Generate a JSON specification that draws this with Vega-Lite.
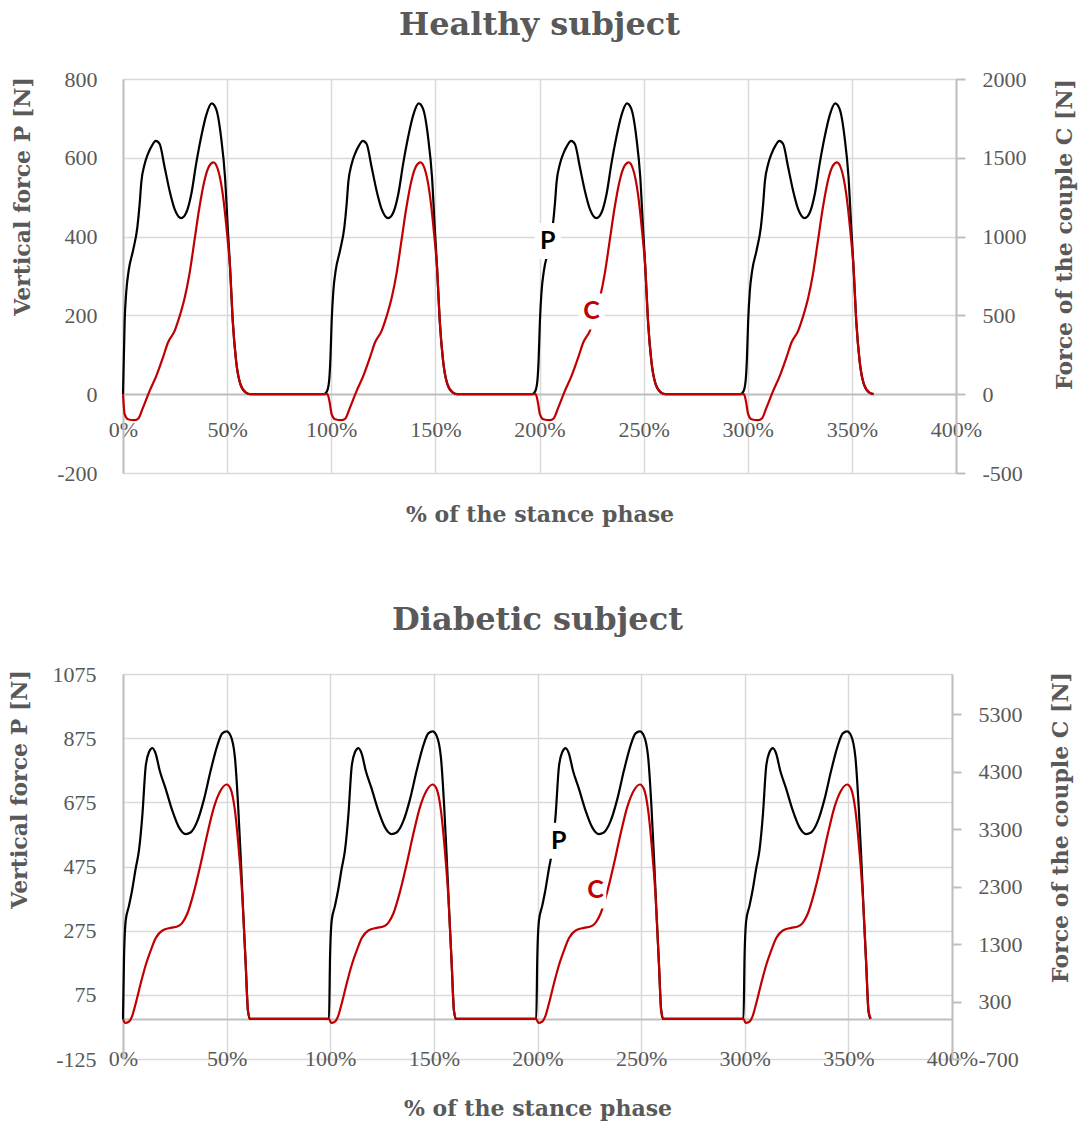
{
"$schema": "https://vega.github.io/schema/vega-lite/v6.json",
"background": "white",
"padding": {"left": 7, "top": 9, "right": 5, "bottom": 5},
"spacing": 79,
"config": {
 "view": {"stroke": null},
 "axis": {"labelFont": "Liberation Serif", "labelFontSize": 22, "labelColor": "#595959", "titleFont": "DejaVu Serif", "titleFontSize": 22, "titleFontWeight": "bold", "titleColor": "#595959", "gridColor": "#d9d9d9", "gridWidth": 1.5, "domainColor": "#bfbfbf", "domainWidth": 2, "tickColor": "#bfbfbf", "tickWidth": 2, "labelFlush": false, "labelOverlap": false},
 "title": {"font": "DejaVu Serif", "fontSize": 32, "fontWeight": "bold", "color": "#595959", "anchor": "middle", "frame": "group", "baseline": "alphabetic", "offset": 26}
},
"datasets": {
 "hP": [{"x":0,"y":0},{"x":0.8,"y":186},{"x":1.6,"y":262},{"x":2.7,"y":313},{"x":4.8,"y":364},{"x":6.9,"y":424},{"x":8,"y":483},{"x":8.8,"y":538},{"x":10.4,"y":584},{"x":12,"y":610},{"x":13.9,"y":631},{"x":15.8,"y":643},{"x":17.6,"y":635},{"x":20,"y":576},{"x":22.4,"y":516},{"x":24.8,"y":470},{"x":28,"y":447},{"x":30.4,"y":461},{"x":32.8,"y":508},{"x":35.1,"y":584},{"x":37.5,"y":652},{"x":39.9,"y":707},{"x":42.6,"y":738},{"x":44.7,"y":724},{"x":47.1,"y":652},{"x":49,"y":550},{"x":50.3,"y":423},{"x":51.4,"y":322},{"x":52.7,"y":186},{"x":54.3,"y":85},{"x":56.4,"y":25},{"x":59,"y":4},{"x":61,"y":0},
  {"x":96.4,"y":0},{"x":98,"y":8},{"x":99,"y":35},{"x":99.6,"y":90},
  {"x":100.2,"y":186},{"x":101,"y":262},{"x":102.1,"y":313},{"x":104.2,"y":364},{"x":106.3,"y":424},{"x":107.4,"y":483},{"x":108.2,"y":538},{"x":109.8,"y":584},{"x":111.4,"y":610},{"x":113.3,"y":631},{"x":115.2,"y":643},{"x":117,"y":635},{"x":119.4,"y":576},{"x":121.8,"y":516},{"x":124.2,"y":470},{"x":127.4,"y":447},{"x":129.8,"y":461},{"x":132.2,"y":508},{"x":134.5,"y":584},{"x":136.9,"y":652},{"x":139.3,"y":707},{"x":142,"y":738},{"x":144.1,"y":724},{"x":146.5,"y":652},{"x":148.4,"y":550},{"x":149.7,"y":423},{"x":150.8,"y":322},{"x":152.1,"y":186},{"x":153.7,"y":85},{"x":155.8,"y":25},{"x":158.4,"y":4},{"x":160.4,"y":0},
  {"x":196.4,"y":0},{"x":198,"y":8},{"x":199,"y":35},{"x":199.6,"y":90},
  {"x":200.2,"y":186},{"x":201,"y":262},{"x":202.1,"y":313},{"x":204.2,"y":364},{"x":206.3,"y":424},{"x":207.4,"y":483},{"x":208.2,"y":538},{"x":209.8,"y":584},{"x":211.4,"y":610},{"x":213.3,"y":631},{"x":215.2,"y":643},{"x":217,"y":635},{"x":219.4,"y":576},{"x":221.8,"y":516},{"x":224.2,"y":470},{"x":227.4,"y":447},{"x":229.8,"y":461},{"x":232.2,"y":508},{"x":234.5,"y":584},{"x":236.9,"y":652},{"x":239.3,"y":707},{"x":242,"y":738},{"x":244.1,"y":724},{"x":246.5,"y":652},{"x":248.4,"y":550},{"x":249.7,"y":423},{"x":250.8,"y":322},{"x":252.1,"y":186},{"x":253.7,"y":85},{"x":255.8,"y":25},{"x":258.4,"y":4},{"x":260.4,"y":0},
  {"x":296.4,"y":0},{"x":298,"y":8},{"x":299,"y":35},{"x":299.6,"y":90},
  {"x":300.2,"y":186},{"x":301,"y":262},{"x":302.1,"y":313},{"x":304.2,"y":364},{"x":306.3,"y":424},{"x":307.4,"y":483},{"x":308.2,"y":538},{"x":309.8,"y":584},{"x":311.4,"y":610},{"x":313.3,"y":631},{"x":315.2,"y":643},{"x":317,"y":635},{"x":319.4,"y":576},{"x":321.8,"y":516},{"x":324.2,"y":470},{"x":327.4,"y":447},{"x":329.8,"y":461},{"x":332.2,"y":508},{"x":334.5,"y":584},{"x":336.9,"y":652},{"x":339.3,"y":707},{"x":342,"y":738},{"x":344.1,"y":724},{"x":346.5,"y":652},{"x":348.4,"y":550},{"x":349.7,"y":423},{"x":350.8,"y":322},{"x":352.1,"y":186},{"x":353.7,"y":85},{"x":355.8,"y":25},{"x":358.4,"y":4},{"x":360.4,"y":0}],
 "hC": [{"x":0,"y":0},{"x":0.8,"y":-127},{"x":2.4,"y":-159},{"x":5.6,"y":-165},{"x":7.5,"y":-152},{"x":9.6,"y":-85},{"x":12.8,"y":21},{"x":16,"y":116},{"x":19.2,"y":233},{"x":21.6,"y":328},{"x":24.8,"y":402},{"x":27.2,"y":495},{"x":29.6,"y":610},{"x":31.9,"y":762},{"x":34.3,"y":973},{"x":36.7,"y":1186},{"x":39.1,"y":1355},{"x":41.5,"y":1450},{"x":43.4,"y":1471},{"x":45.5,"y":1429},{"x":47.9,"y":1270},{"x":50,"y":1016},{"x":51.4,"y":805},{"x":52.7,"y":465},{"x":54.3,"y":212},{"x":56.4,"y":62},{"x":59,"y":10},{"x":61,"y":0},
  {"x":98.2,"y":0},{"x":99.2,"y":-50},
  {"x":100.2,"y":-127},{"x":101.8,"y":-159},{"x":105,"y":-165},{"x":106.9,"y":-152},{"x":109,"y":-85},{"x":112.2,"y":21},{"x":115.4,"y":116},{"x":118.6,"y":233},{"x":121,"y":328},{"x":124.2,"y":402},{"x":126.6,"y":495},{"x":129,"y":610},{"x":131.3,"y":762},{"x":133.7,"y":973},{"x":136.1,"y":1186},{"x":138.5,"y":1355},{"x":140.9,"y":1450},{"x":142.8,"y":1471},{"x":144.9,"y":1429},{"x":147.3,"y":1270},{"x":149.4,"y":1016},{"x":150.8,"y":805},{"x":152.1,"y":465},{"x":153.7,"y":212},{"x":155.8,"y":62},{"x":158.4,"y":10},{"x":160.4,"y":0},
  {"x":198.2,"y":0},{"x":199.2,"y":-50},
  {"x":200.2,"y":-127},{"x":201.8,"y":-159},{"x":205,"y":-165},{"x":206.9,"y":-152},{"x":209,"y":-85},{"x":212.2,"y":21},{"x":215.4,"y":116},{"x":218.6,"y":233},{"x":221,"y":328},{"x":224.2,"y":402},{"x":226.6,"y":495},{"x":229,"y":610},{"x":231.3,"y":762},{"x":233.7,"y":973},{"x":236.1,"y":1186},{"x":238.5,"y":1355},{"x":240.9,"y":1450},{"x":242.8,"y":1471},{"x":244.9,"y":1429},{"x":247.3,"y":1270},{"x":249.4,"y":1016},{"x":250.8,"y":805},{"x":252.1,"y":465},{"x":253.7,"y":212},{"x":255.8,"y":62},{"x":258.4,"y":10},{"x":260.4,"y":0},
  {"x":298.2,"y":0},{"x":299.2,"y":-50},
  {"x":300.2,"y":-127},{"x":301.8,"y":-159},{"x":305,"y":-165},{"x":306.9,"y":-152},{"x":309,"y":-85},{"x":312.2,"y":21},{"x":315.4,"y":116},{"x":318.6,"y":233},{"x":321,"y":328},{"x":324.2,"y":402},{"x":326.6,"y":495},{"x":329,"y":610},{"x":331.3,"y":762},{"x":333.7,"y":973},{"x":336.1,"y":1186},{"x":338.5,"y":1355},{"x":340.9,"y":1450},{"x":342.8,"y":1471},{"x":344.9,"y":1429},{"x":347.3,"y":1270},{"x":349.4,"y":1016},{"x":350.8,"y":805},{"x":352.1,"y":465},{"x":353.7,"y":212},{"x":355.8,"y":62},{"x":358.4,"y":10},{"x":360.4,"y":0}],
 "dP": [{"x":0,"y":0},{"x":0.5,"y":192},{"x":1.3,"y":306},{"x":2.9,"y":353},{"x":4.5,"y":405},{"x":6.1,"y":468},{"x":7.7,"y":525},{"x":9.4,"y":640},{"x":10.9,"y":784},{"x":12.5,"y":831},{"x":14.2,"y":844},{"x":15.8,"y":826},{"x":17.7,"y":774},{"x":20.6,"y":717},{"x":23.8,"y":649},{"x":27,"y":597},{"x":30.2,"y":576},{"x":32.6,"y":581},{"x":35.9,"y":617},{"x":39.1,"y":685},{"x":42.3,"y":774},{"x":45.5,"y":852},{"x":47.9,"y":890},{"x":50,"y":896},{"x":51.9,"y":883},{"x":54,"y":815},{"x":55.6,"y":659},{"x":56.8,"y":504},{"x":57.9,"y":347},{"x":59.2,"y":171},{"x":60.3,"y":25},{"x":61.2,"y":0},
  {"x":99.4,"y":0},{"x":99.9,"y":192},{"x":100.7,"y":306},{"x":102.3,"y":353},{"x":103.9,"y":405},{"x":105.5,"y":468},{"x":107.1,"y":525},{"x":108.8,"y":640},{"x":110.3,"y":784},{"x":111.9,"y":831},{"x":113.6,"y":844},{"x":115.2,"y":826},{"x":117.1,"y":774},{"x":120,"y":717},{"x":123.2,"y":649},{"x":126.4,"y":597},{"x":129.6,"y":576},{"x":132,"y":581},{"x":135.3,"y":617},{"x":138.5,"y":685},{"x":141.7,"y":774},{"x":144.9,"y":852},{"x":147.3,"y":890},{"x":149.4,"y":896},{"x":151.3,"y":883},{"x":153.4,"y":815},{"x":155,"y":659},{"x":156.2,"y":504},{"x":157.3,"y":347},{"x":158.6,"y":171},{"x":159.7,"y":25},{"x":160.6,"y":0},
  {"x":199.4,"y":0},{"x":199.9,"y":192},{"x":200.7,"y":306},{"x":202.3,"y":353},{"x":203.9,"y":405},{"x":205.5,"y":468},{"x":207.1,"y":525},{"x":208.8,"y":640},{"x":210.3,"y":784},{"x":211.9,"y":831},{"x":213.6,"y":844},{"x":215.2,"y":826},{"x":217.1,"y":774},{"x":220,"y":717},{"x":223.2,"y":649},{"x":226.4,"y":597},{"x":229.6,"y":576},{"x":232,"y":581},{"x":235.3,"y":617},{"x":238.5,"y":685},{"x":241.7,"y":774},{"x":244.9,"y":852},{"x":247.3,"y":890},{"x":249.4,"y":896},{"x":251.3,"y":883},{"x":253.4,"y":815},{"x":255,"y":659},{"x":256.2,"y":504},{"x":257.3,"y":347},{"x":258.6,"y":171},{"x":259.7,"y":25},{"x":260.6,"y":0},
  {"x":299.4,"y":0},{"x":299.9,"y":192},{"x":300.7,"y":306},{"x":302.3,"y":353},{"x":303.9,"y":405},{"x":305.5,"y":468},{"x":307.1,"y":525},{"x":308.8,"y":640},{"x":310.3,"y":784},{"x":311.9,"y":831},{"x":313.6,"y":844},{"x":315.2,"y":826},{"x":317.1,"y":774},{"x":320,"y":717},{"x":323.2,"y":649},{"x":326.4,"y":597},{"x":329.6,"y":576},{"x":332,"y":581},{"x":335.3,"y":617},{"x":338.5,"y":685},{"x":341.7,"y":774},{"x":344.9,"y":852},{"x":347.3,"y":890},{"x":349.4,"y":896},{"x":351.3,"y":883},{"x":353.4,"y":815},{"x":355,"y":659},{"x":356.2,"y":504},{"x":357.3,"y":347},{"x":358.6,"y":171},{"x":359.7,"y":25},{"x":360.6,"y":0}],
 "dC": [{"x":0,"y":0},{"x":1,"y":-73},{"x":2.9,"y":-50},{"x":4.5,"y":56},{"x":6.1,"y":261},{"x":8.5,"y":609},{"x":10.9,"y":928},{"x":13.4,"y":1190},{"x":15.8,"y":1405},{"x":19,"y":1537},{"x":23,"y":1583},{"x":26.2,"y":1606},{"x":28.6,"y":1670},{"x":31,"y":1827},{"x":34.2,"y":2204},{"x":37.5,"y":2697},{"x":40.7,"y":3219},{"x":43.9,"y":3683},{"x":47.1,"y":3973},{"x":50,"y":4077},{"x":51.9,"y":4002},{"x":54,"y":3625},{"x":55.9,"y":2929},{"x":57.6,"y":2114},{"x":59.2,"y":955},{"x":60.3,"y":139},{"x":61.5,"y":0},
  {"x":99.4,"y":0},{"x":100.4,"y":-73},{"x":102.3,"y":-50},{"x":103.9,"y":56},{"x":105.5,"y":261},{"x":107.9,"y":609},{"x":110.3,"y":928},{"x":112.8,"y":1190},{"x":115.2,"y":1405},{"x":118.4,"y":1537},{"x":122.4,"y":1583},{"x":125.6,"y":1606},{"x":128,"y":1670},{"x":130.4,"y":1827},{"x":133.6,"y":2204},{"x":136.9,"y":2697},{"x":140.1,"y":3219},{"x":143.3,"y":3683},{"x":146.5,"y":3973},{"x":149.4,"y":4077},{"x":151.3,"y":4002},{"x":153.4,"y":3625},{"x":155.3,"y":2929},{"x":157,"y":2114},{"x":158.6,"y":955},{"x":159.7,"y":139},{"x":160.9,"y":0},
  {"x":199.4,"y":0},{"x":200.4,"y":-73},{"x":202.3,"y":-50},{"x":203.9,"y":56},{"x":205.5,"y":261},{"x":207.9,"y":609},{"x":210.3,"y":928},{"x":212.8,"y":1190},{"x":215.2,"y":1405},{"x":218.4,"y":1537},{"x":222.4,"y":1583},{"x":225.6,"y":1606},{"x":228,"y":1670},{"x":230.4,"y":1827},{"x":233.6,"y":2204},{"x":236.9,"y":2697},{"x":240.1,"y":3219},{"x":243.3,"y":3683},{"x":246.5,"y":3973},{"x":249.4,"y":4077},{"x":251.3,"y":4002},{"x":253.4,"y":3625},{"x":255.3,"y":2929},{"x":257,"y":2114},{"x":258.6,"y":955},{"x":259.7,"y":139},{"x":260.9,"y":0},
  {"x":299.4,"y":0},{"x":300.4,"y":-73},{"x":302.3,"y":-50},{"x":303.9,"y":56},{"x":305.5,"y":261},{"x":307.9,"y":609},{"x":310.3,"y":928},{"x":312.8,"y":1190},{"x":315.2,"y":1405},{"x":318.4,"y":1537},{"x":322.4,"y":1583},{"x":325.6,"y":1606},{"x":328,"y":1670},{"x":330.4,"y":1827},{"x":333.6,"y":2204},{"x":336.9,"y":2697},{"x":340.1,"y":3219},{"x":343.3,"y":3683},{"x":346.5,"y":3973},{"x":349.4,"y":4077},{"x":351.3,"y":4002},{"x":353.4,"y":3625},{"x":355.3,"y":2929},{"x":357,"y":2114},{"x":358.6,"y":955},{"x":359.7,"y":139},{"x":360.9,"y":0}]
},
"vconcat": [
 {
  "title": {"text": "Healthy subject"},
  "width": 833, "height": 394,
  "encoding": {"x": {"field": "x", "type": "quantitative", "scale": {"domain": [0, 400], "nice": false, "zero": false},
    "axis": {"title": "% of the stance phase", "values": [0,50,100,150,200,250,300,350,400], "labelExpr": "datum.value + '%'", "offset": -79, "ticks": false, "labelPadding": 25, "titlePadding": 64, "grid": true}}},
  "layer": [
   {"layer": [
     {"data": {"name": "hP"}, "mark": {"type": "line", "color": "#000000", "strokeWidth": 2.2, "interpolate": "monotone"}},
     {"data": {"values": [{"x": 204, "y": 389, "t": "P"}]}, "mark": {"type": "point", "shape": "M-0.72,-1H0.72V1H-0.72Z", "size": 1296, "filled": true, "color": "white", "opacity": 1, "strokeWidth": 0}},
     {"data": {"values": [{"x": 204, "y": 389, "t": "P"}]}, "mark": {"type": "text", "font": "Lato", "fontWeight": "bold", "fontSize": 25, "color": "#000000", "baseline": "middle", "align": "center"}, "encoding": {"text": {"field": "t"}}}
    ],
    "encoding": {"y": {"field": "y", "type": "quantitative", "scale": {"domain": [-200, 800], "nice": false, "zero": false},
      "axis": {"title": "Vertical force P [N]", "values": [-200,0,200,400,600,800], "labelExpr": "'' + datum.value", "ticks": false, "labelPadding": 26, "titlePadding": 22, "titleY": 117, "grid": true}}}
   },
   {"layer": [
     {"data": {"name": "hC"}, "mark": {"type": "line", "color": "#c00000", "strokeWidth": 2.2, "interpolate": "monotone"}},
     {"data": {"values": [{"x": 225, "y": 525, "t": "C"}]}, "mark": {"type": "point", "shape": "M-0.72,-1H0.72V1H-0.72Z", "size": 1296, "filled": true, "color": "white", "opacity": 1, "strokeWidth": 0}},
     {"data": {"values": [{"x": 225, "y": 525, "t": "C"}]}, "mark": {"type": "text", "font": "Lato", "fontWeight": "bold", "fontSize": 25, "color": "#c00000", "baseline": "middle", "align": "center"}, "encoding": {"text": {"field": "t"}}}
    ],
    "encoding": {"y": {"field": "y", "type": "quantitative", "scale": {"domain": [-500, 2000], "nice": false, "zero": false},
      "axis": {"orient": "right", "title": "Force of the couple C [N]", "values": [-500,0,500,1000,1500,2000], "labelExpr": "'' + datum.value", "grid": false, "ticks": true, "tickSize": 9, "labelPadding": 17, "titlePadding": 28, "titleAngle": 270, "titleBaseline": "top", "titleY": 155}}}
   }
  ],
  "resolve": {"scale": {"y": "independent"}}
 },
 {
  "title": {"text": "Diabetic subject"},
  "width": 829, "height": 385,
  "encoding": {"x": {"field": "x", "type": "quantitative", "scale": {"domain": [0, 400], "nice": false, "zero": false},
    "axis": {"title": "% of the stance phase", "values": [0,50,100,150,200,250,300,350,400], "labelExpr": "datum.value + '%'", "offset": -40, "ticks": false, "labelPadding": 29, "titlePadding": 29, "grid": true}}},
  "layer": [
   {"layer": [
     {"data": {"name": "dP"}, "mark": {"type": "line", "color": "#000000", "strokeWidth": 2.2, "interpolate": "monotone"}},
     {"data": {"values": [{"x": 210.2, "y": 555, "t": "P"}]}, "mark": {"type": "point", "shape": "M-0.72,-1H0.72V1H-0.72Z", "size": 1296, "filled": true, "color": "white", "opacity": 1, "strokeWidth": 0}},
     {"data": {"values": [{"x": 210.2, "y": 555, "t": "P"}]}, "mark": {"type": "text", "font": "Lato", "fontWeight": "bold", "fontSize": 25, "color": "#000000", "baseline": "middle", "align": "center"}, "encoding": {"text": {"field": "t"}}}
    ],
    "encoding": {"y": {"field": "y", "type": "quantitative", "scale": {"domain": [-125, 1075], "nice": false, "zero": false},
      "axis": {"title": "Vertical force P [N]", "values": [-125,75,275,475,675,875,1075], "labelExpr": "'' + datum.value", "ticks": false, "labelPadding": 27, "titlePadding": 21, "titleY": 115, "grid": true}}}
   },
   {"layer": [
     {"data": {"name": "dC"}, "mark": {"type": "line", "color": "#c00000", "strokeWidth": 2.2, "interpolate": "monotone"}},
     {"data": {"values": [{"x": 228, "y": 2233, "t": "C"}]}, "mark": {"type": "point", "shape": "M-0.6,-1H0.6V1H-0.6Z", "size": 1296, "filled": true, "color": "white", "opacity": 1, "strokeWidth": 0}},
     {"data": {"values": [{"x": 228, "y": 2233, "t": "C"}]}, "mark": {"type": "text", "font": "Lato", "fontWeight": "bold", "fontSize": 25, "color": "#c00000", "baseline": "middle", "align": "center"}, "encoding": {"text": {"field": "t"}}}
    ],
    "encoding": {"y": {"field": "y", "type": "quantitative", "scale": {"domain": [-700, 6000], "nice": false, "zero": false},
      "axis": {"orient": "right", "title": "Force of the couple C [N]", "values": [-700,300,1300,2300,3300,4300,5300], "labelExpr": "'' + datum.value", "grid": false, "ticks": true, "tickSize": 9, "labelPadding": 17, "titlePadding": 28, "titleAngle": 270, "titleBaseline": "top", "titleY": 153}}}
   }
  ],
  "resolve": {"scale": {"y": "independent"}}
 }
]
}
